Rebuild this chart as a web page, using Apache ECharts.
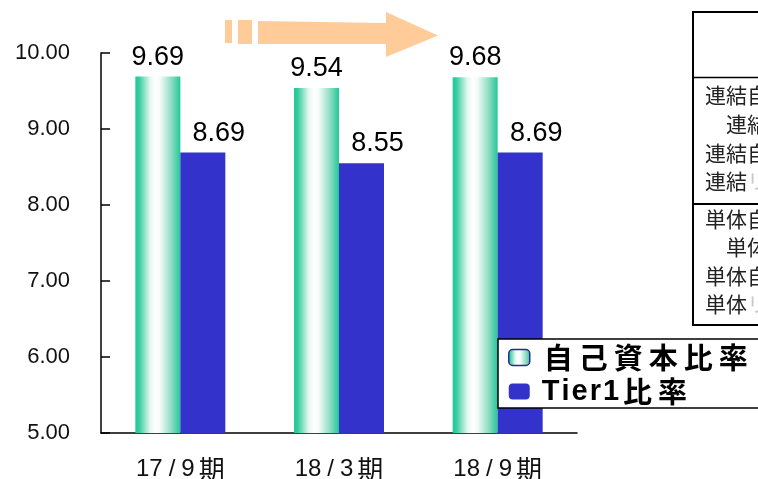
<!DOCTYPE html>
<html>
<head>
<meta charset="utf-8">
<script src="https://cdn.jsdelivr.net/npm/echarts@6/dist/echarts.min.js"></script>
<style>
  html, body { margin: 0; padding: 0; background: #fff; }
  #chart { width: 758px; height: 479px; }
</style>
</head>
<body>
<div id="chart"></div>
<script>
// Periods and ratios (%)
const periods = ['17/9期', '18/3期', '18/9期'];
const capitalRatio = [9.69, 9.54, 9.68];
const tier1Ratio = [8.69, 8.55, 8.69];
const seriesNames = ['自己資本比率', 'Tier1比率'];

// Side table row captions (consolidated / non-consolidated)
const consolidatedRows = ['連結自己資本比率', '　連結Tier1比率', '連結自己資本額', '連結'];
const standaloneRows = ['単体自己資本比率', '　単体Tier1比率', '単体自己資本額', '単体'];
const faintTail = 'リスク・アセット';

const GREEN = '#22c897';
const BLUE = '#3333cc';
const ORANGE = '#ffcc99';
const CJK = '"Noto Sans CJK JP", sans-serif';
const LATIN = '"Liberation Sans", Arial, sans-serif';

const greenGradient = new echarts.graphic.LinearGradient(0, 0, 1, 0, [
  { offset: 0, color: GREEN },
  { offset: 0.08, color: '#35cc9e' },
  { offset: 0.33, color: '#e6f8f1' },
  { offset: 0.45, color: '#ffffff' },
  { offset: 0.55, color: '#f3fbf8' },
  { offset: 0.8, color: '#8edcc3' },
  { offset: 1, color: GREEN }
]);

// Put each character in its own rich segment (ASCII and CJK styled apart) for wider tracking
function spaced(text) {
  return Array.from(text).map(ch => (/[\x00-\x7f]/.test(ch) ? '{l|' : '{c|') + ch + '}').join('');
}

// Period label: digits in a Latin face, spaced slash, kanji suffix
function periodLabel(v) {
  const m = v.match(/^(\d+)\/(\d+)(.*)$/);
  if (!m) return v;
  return '{d|' + m[1] + '}{s|/}{d|' + m[2] + '}{k|' + m[3] + '}';
}

const tableX = 705;
function tableRow(text, y, faint) {
  return {
    type: 'text',
    z: 10,
    style: {
      x: tableX, y: y,
      text: faint ? text + '{g|' + faintTail + '}' : text,
      fontFamily: CJK, fontSize: 21, fill: '#222',
      verticalAlign: 'middle',
      rich: { g: { fontFamily: CJK, fontSize: 21, fill: '#c8c8c8' } }
    }
  };
}

const rowYs1 = [95, 124, 153, 181];
const rowYs2 = [219, 247, 276, 304];

const graphic = [
  // progress arrow
  { type: 'rect', shape: { x: 225, y: 20, width: 7, height: 23 }, style: { fill: ORANGE } },
  { type: 'rect', shape: { x: 238, y: 20, width: 14, height: 24 }, style: { fill: ORANGE } },
  { type: 'polygon', shape: { points: [[258, 21], [386, 23], [386, 12], [438, 35.5], [386, 57], [386, 44], [258, 44]] }, style: { fill: ORANGE } },
  // side table frame
  { type: 'rect', z: 9, shape: { x: 693, y: 12, width: 100, height: 313 }, style: { fill: '#fff', stroke: '#000', lineWidth: 2 } },
  { type: 'line', z: 10, shape: { x1: 693, y1: 77.5, x2: 758, y2: 77.5 }, style: { stroke: '#000', lineWidth: 1.5 } },
  { type: 'line', z: 10, shape: { x1: 693, y1: 204, x2: 758, y2: 204 }, style: { stroke: '#000', lineWidth: 2 } }
];
consolidatedRows.forEach((t, i) => graphic.push(tableRow(t, rowYs1[i], i === 3)));
standaloneRows.forEach((t, i) => graphic.push(tableRow(t, rowYs2[i], i === 3)));

const chart = echarts.init(document.getElementById('chart'), null, { renderer: 'canvas' });

chart.setOption({
  animation: false,
  backgroundColor: '#fff',
  grid: { left: 101, top: 53, width: 476, height: 380, containLabel: false, outerBoundsMode: 'none' },
  xAxis: {
    type: 'category',
    data: periods,
    axisLine: { lineStyle: { color: '#000', width: 1.5 } },
    axisTick: { inside: true, length: 8, lineStyle: { color: '#000', width: 1.5 } },
    axisLabel: {
      margin: 23,
      color: '#111',
      formatter: periodLabel,
      rich: {
        d: { fontFamily: LATIN, fontSize: 24, color: '#111' },
        s: { fontFamily: LATIN, fontSize: 24, color: '#111', padding: [0, 6, 0, 6] },
        k: { fontFamily: CJK, fontSize: 26, color: '#111', padding: [0, 0, 0, 4] }
      }
    }
  },
  yAxis: {
    type: 'value',
    min: 5, max: 10, interval: 1,
    axisLine: { show: true, lineStyle: { color: '#000', width: 1.5 } },
    axisTick: { show: true, inside: true, length: 9, lineStyle: { color: '#000', width: 1.5 } },
    splitLine: { show: false },
    axisLabel: {
      margin: 31,
      color: '#111',
      fontFamily: LATIN,
      fontSize: 22,
      formatter: v => v.toFixed(2)
    }
  },
  legend: {
    orient: 'vertical',
    left: 498, top: 339,
    padding: [4, 80, 2, 10],
    itemGap: 5,
    itemWidth: 21, itemHeight: 16,
    backgroundColor: '#fff',
    borderColor: '#000', borderWidth: 1.5, borderRadius: 0,
    data: [
      { name: seriesNames[0], itemStyle: { borderColor: '#2a2a8a', borderWidth: 1.5 } },
      { name: seriesNames[1] }
    ],
    formatter: spaced,
    textStyle: {
      padding: [0, 0, 0, 6],
      rich: {
        c: { fontFamily: CJK, fontSize: 29, fontWeight: 'bold', color: '#000', padding: [0, 3, 0, 3], lineHeight: 30 },
        l: { fontFamily: LATIN, fontSize: 29, fontWeight: 'bold', color: '#000', padding: [0, 1, 0, 1], lineHeight: 30 }
      }
    }
  },
  graphic: graphic,
  series: [
    {
      name: seriesNames[0],
      type: 'bar',
      data: capitalRatio,
      barWidth: 45,
      barGap: '0%',
      itemStyle: { color: greenGradient },
      label: {
        show: true, position: 'top', distance: 6,
        fontFamily: LATIN, fontSize: 27, color: '#000',
        formatter: p => p.value.toFixed(2)
      }
    },
    {
      name: seriesNames[1],
      type: 'bar',
      data: tier1Ratio,
      barWidth: 45,
      barGap: '0%',
      itemStyle: { color: BLUE },
      label: {
        show: true, position: 'top', distance: 6, offset: [16, 0],
        fontFamily: LATIN, fontSize: 27, color: '#000',
        formatter: p => p.value.toFixed(2)
      }
    }
  ]
});
</script>
</body>
</html>
